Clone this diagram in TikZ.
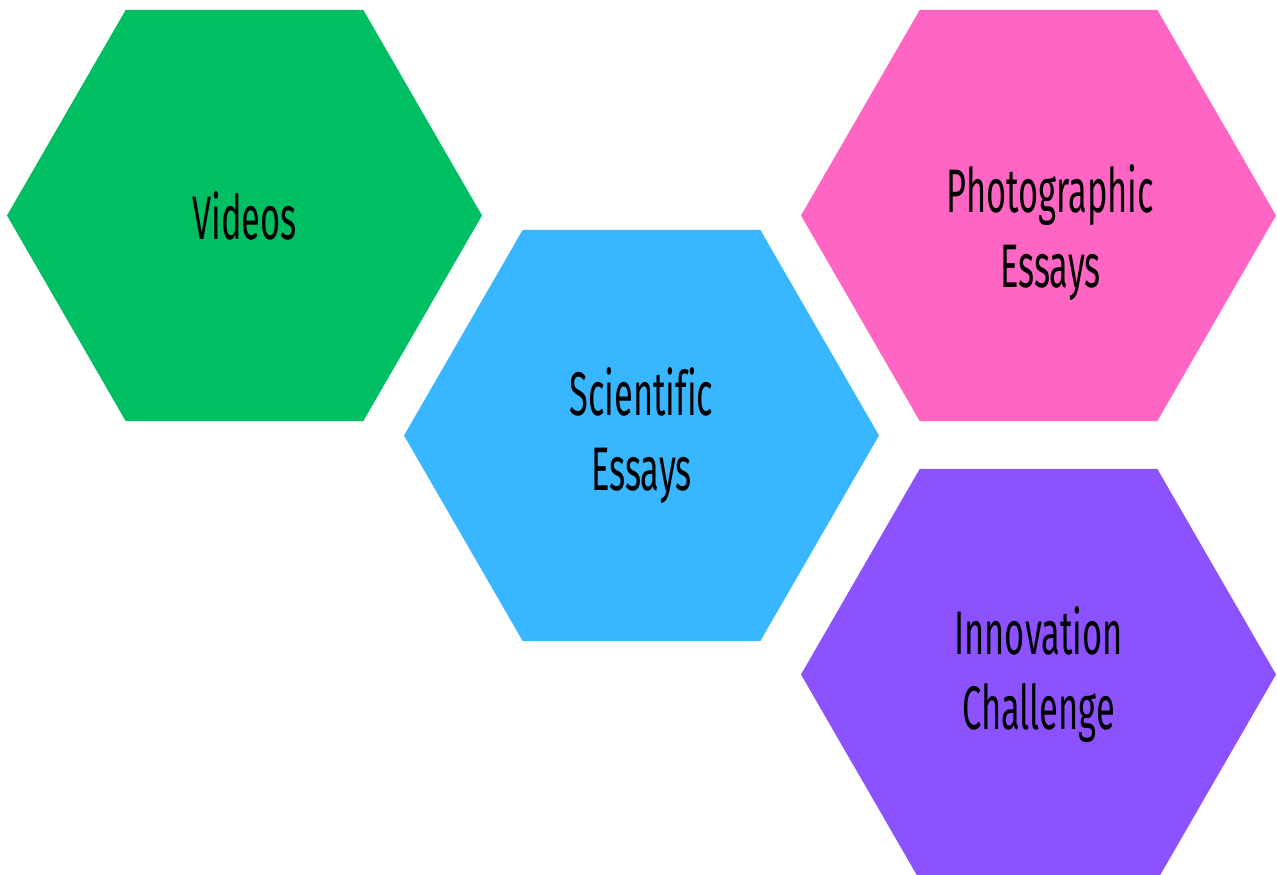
\documentclass[tikz,border=0pt]{standalone}
\usepackage{fontspec}
\setmainfont{Fira Sans}[FakeStretch=0.56, Ligatures=NoCommon]
\usetikzlibrary{shapes.geometric, positioning}
\definecolor{hexgreen}{HTML}{00BF63}
\definecolor{hexblue}{HTML}{38B6FF}
\definecolor{hexpink}{HTML}{FF66C4}
\definecolor{hexpurple}{HTML}{8C52FF}
\tikzstyle{hexText} = [text centered, align=center, font=\fontsize{35}{42.5}\selectfont, text=black]
\tikzstyle{hexNode} = [hexText, regular polygon, regular polygon sides=6, minimum size=9.5cm, inner sep=0pt]
\tikzstyle{hexNodeG} = [hexNode, fill=hexgreen]
\tikzstyle{hexNodeB} = [hexNode, fill=hexblue]
\tikzstyle{hexNodeP} = [hexNode, fill=hexpink]
\tikzstyle{hexNodeV} = [hexNode, fill=hexpurple]

\begin{document}
\begin{tikzpicture}
    \useasboundingbox (0,0) rectangle (25.54,-17.5);
    \clip (0,0) rectangle (25.54,-17.5);
    \node (videos) [hexNodeG] at (4.89,-4.31) {Videos};
    \node (scientific) [hexNodeB] at (12.83,-8.71) {Scientific\\Essays};
    \node (photo) [hexNodeP] at (20.77,-4.31) {};
    \node (photoText) [hexText] at ([xshift=0.24cm, yshift=-0.34cm]photo.center) {Photographic\\Essays};
    \node (innov) [hexNodeV] at (20.77,-13.49) {Innovation\\Challenge};
\end{tikzpicture}
\end{document}
